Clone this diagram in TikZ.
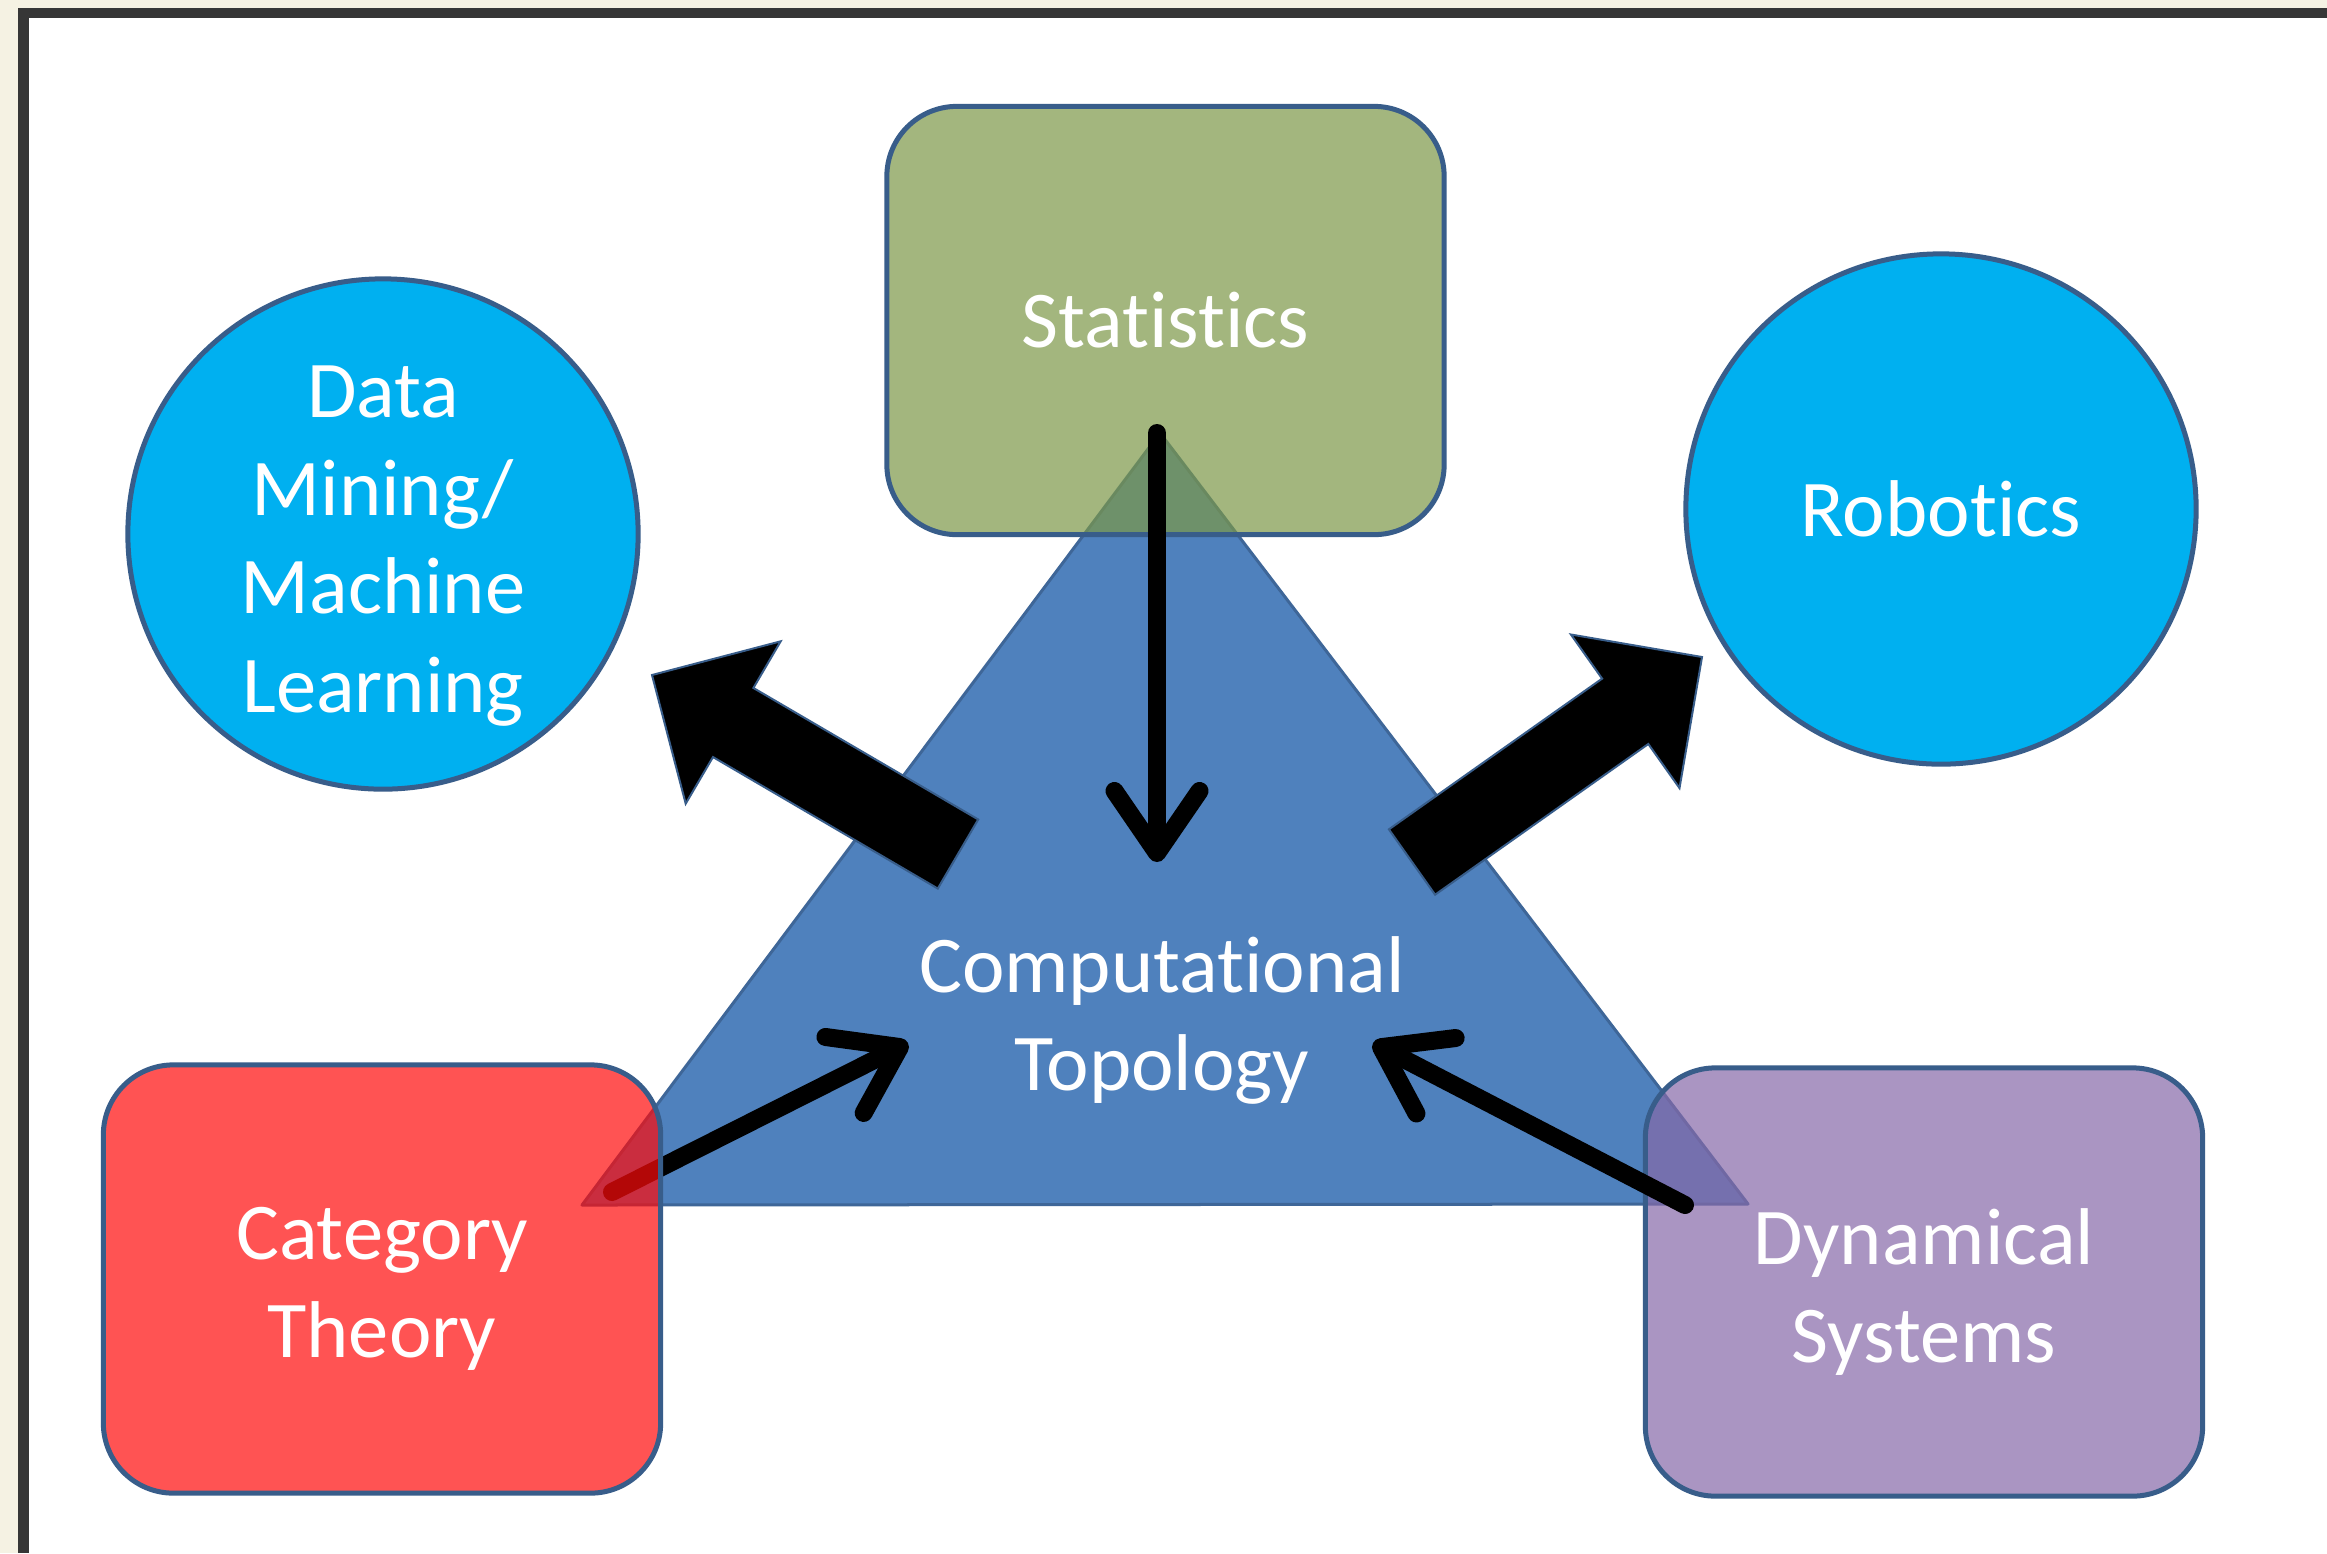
\documentclass[tikz,border=0pt]{standalone}
\usepackage{fontspec}
\setmainfont{Carlito}[Ligatures=NoCommon]
\usetikzlibrary{arrows.meta,calc}

\definecolor{pagecream}{RGB}{245,242,227}
\definecolor{framegray}{RGB}{54,54,54}
\definecolor{edgeblue}{RGB}{56,93,138}
\definecolor{triblue}{RGB}{79,129,189}
\definecolor{triedge}{RGB}{62,102,152}
\definecolor{skyblue}{RGB}{0,176,240}
\definecolor{olive}{RGB}{124,152,72}
\definecolor{boxred}{RGB}{255,10,10}
\definecolor{lavender}{RGB}{134,105,169}

\tikzset{
  label text/.style={text=white, font=\fontsize{22.9}{27.9}\selectfont, align=center},
  topic circle/.style={circle, draw=edgeblue, line width=0.05cm, fill=skyblue,
    minimum size=5.1cm, inner sep=0pt, label text},
  topic box/.style={rectangle, rounded corners=0.7cm, draw=edgeblue, line width=0.05cm,
    fill opacity=0.7, text opacity=1, minimum width=5.57cm, minimum height=4.28cm,
    inner sep=0pt, label text},
  thin arrow/.style={line width=0.18cm, line cap=round,
    -{Straight Barb[length=0.62cm, width=0.85cm, round]}},
  block arrow/.style={fill=black, draw=edgeblue, line width=0.02cm, line join=miter},
}

% wide block arrow from #1 (tail) to #2 (tip)
\newcommand{\blockarrow}[2]{%
  \coordinate (#1-neck) at ($(#2)!0.94cm!(#1)$);
  \filldraw[block arrow]
    ($(#1)!0.40cm!90:(#2)$) --
    ($(#1-neck)!0.40cm!-90:(#1)$) --
    ($(#1-neck)!0.94cm!-90:(#1)$) --
    (#2) --
    ($(#1-neck)!0.94cm!90:(#1)$) --
    ($(#1-neck)!0.40cm!90:(#1)$) --
    ($(#1)!0.40cm!-90:(#2)$) -- cycle;
}

\begin{document}
\begin{tikzpicture}[x=0.01cm, y=-0.01cm]
  \useasboundingbox (0,0) rectangle (2327,1553);

  % page background and framed sheet
  \fill[pagecream] (0,0) rectangle (2327,1553);
  \fill[framegray] (18,8) rectangle (2327,1553);
  \fill[white] (29,18) rectangle (2327,1553);

  % central triangle
  \coordinate (apex) at (1160,433);
  \coordinate (baseL) at (582,1205);
  \coordinate (baseR) at (1748,1204);
  \filldraw[fill=triblue, draw=triedge, line width=0.03cm, line join=round]
    (apex) -- (baseR) -- (baseL) -- cycle;
  \node[label text] (ct) at (1162,1020) {Computational\\Topology};

  % arrow from category theory into the triangle (lies under the red box)
  \coordinate (catstart) at (612,1192);
  \coordinate (cattip) at (908,1043);
  \draw[thin arrow] (catstart) -- (cattip);

  % outward block arrows
  \coordinate (dmtail) at (958,854);
  \coordinate (dmtip) at (652,675);
  \blockarrow{dmtail}{dmtip}
  \coordinate (robtail) at (1412,862);
  \coordinate (robtip) at (1702,657);
  \blockarrow{robtail}{robtip}

  % application circles
  \node[topic circle] (dm) at (383,534) {};
  \node[label text] at (383,546) {Data\\Mining/\\Machine\\Learning};
  \node[topic circle] (rob) at (1941,509) {Robotics};

  % translucent source boxes
  \node[topic box, fill=olive] (stat) at (1165.5,320.5) {Statistics};
  \node[topic box, fill=boxred] (cat) at (382,1279) {};
  \node[label text] at (cat.center) [yshift=-0.1cm] {Category\\Theory};
  \node[topic box, fill=lavender] (dyn) at (1924,1282) {};
  \node[label text] at (dyn.center) [yshift=-0.1cm] {Dynamical\\Systems};

  % arrows drawn above the boxes
  \coordinate (statstart) at (1157,433);
  \coordinate (stattip) at (1157,862);
  \draw[thin arrow] (statstart) -- (stattip);
  \coordinate (dynstart) at (1685,1205);
  \coordinate (dyntip) at (1373,1043);
  \draw[thin arrow] (dynstart) -- (dyntip);
\end{tikzpicture}
\end{document}
